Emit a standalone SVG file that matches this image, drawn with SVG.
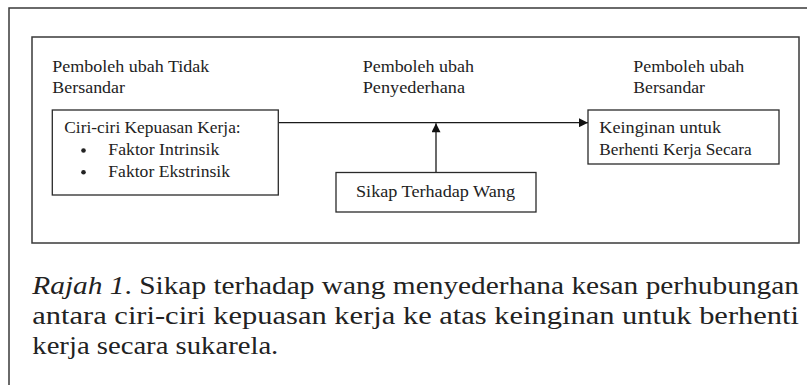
<svg xmlns="http://www.w3.org/2000/svg" width="807" height="385" viewBox="0 0 807 385">
<defs>
<marker id="arr" viewBox="0 0 10 10" refX="10" refY="5" markerWidth="10" markerHeight="9" markerUnits="userSpaceOnUse" orient="auto"><path d="M0,0 L10,5 L0,10 z" fill="#111"/></marker>
</defs>
<style>
.frame{fill:none;stroke:#3a3a3a;stroke-width:1.5}
.box{fill:#fff;stroke:#2a2a2a;stroke-width:1.3}
.lbl{font-family:"Liberation Serif","Times New Roman",serif;font-size:16.5px;fill:#222}
.cap{font-family:"Liberation Serif","Times New Roman",serif;font-size:25px;fill:#222}
.conn{stroke:#1a1a1a;stroke-width:1.3;fill:none}
.dot{fill:#222}
</style>
<rect width="807" height="385" fill="#fff"/>
<path class="frame" d="M9,385 V8 H807"/>
<rect class="frame" x="32" y="37" width="767" height="206"/>

<g id="label-iv">
<text class="lbl" x="52.3" y="71.5" textLength="157" lengthAdjust="spacingAndGlyphs">Pemboleh ubah Tidak</text>
<text class="lbl" x="52.3" y="93" textLength="72.7" lengthAdjust="spacingAndGlyphs">Bersandar</text>
</g>
<g id="label-mod">
<text class="lbl" x="362.7" y="71.5" textLength="111.3" lengthAdjust="spacingAndGlyphs">Pemboleh ubah</text>
<text class="lbl" x="362.7" y="93" textLength="102.3" lengthAdjust="spacingAndGlyphs">Penyederhana</text>
</g>
<g id="label-dv">
<text class="lbl" x="633.3" y="71.5" textLength="111" lengthAdjust="spacingAndGlyphs">Pemboleh ubah</text>
<text class="lbl" x="633.3" y="93" textLength="71.7" lengthAdjust="spacingAndGlyphs">Bersandar</text>
</g>

<g id="connectors">
<path class="conn" d="M278.3,122.7 H588" marker-end="url(#arr)"/>
<path class="conn" d="M436,172.5 V123.3" marker-end="url(#arr)"/>
</g>

<g id="node-kepuasan">
<rect class="box" x="52.3" y="110" width="226" height="85"/>
<text class="lbl" x="64.3" y="133" textLength="176.4" lengthAdjust="spacingAndGlyphs">Ciri-ciri Kepuasan Kerja:</text>
<circle class="dot" cx="83.5" cy="150.5" r="2.3"/>
<text class="lbl" x="108.3" y="155" textLength="111" lengthAdjust="spacingAndGlyphs">Faktor Intrinsik</text>
<circle class="dot" cx="83.5" cy="172.3" r="2.3"/>
<text class="lbl" x="108.3" y="176.8" textLength="121.7" lengthAdjust="spacingAndGlyphs">Faktor Ekstrinsik</text>
</g>

<g id="node-keinginan">
<rect class="box" x="588" y="110" width="191" height="54"/>
<text class="lbl" x="599.3" y="133" textLength="121.7" lengthAdjust="spacingAndGlyphs">Keinginan untuk</text>
<text class="lbl" x="599.3" y="155" textLength="152.4" lengthAdjust="spacingAndGlyphs">Berhenti Kerja Secara</text>
</g>

<g id="node-sikap">
<rect class="box" x="336" y="172.5" width="200" height="39.5"/>
<text class="lbl" x="356" y="197" textLength="159" lengthAdjust="spacingAndGlyphs">Sikap Terhadap Wang</text>
</g>

<g id="caption">
<text class="cap" x="32.3" y="294" textLength="766.7" lengthAdjust="spacingAndGlyphs"><tspan font-style="italic">Rajah 1</tspan>. Sikap terhadap wang menyederhana kesan perhubungan</text>
<text class="cap" x="32.3" y="324" textLength="766.7" lengthAdjust="spacingAndGlyphs">antara ciri-ciri kepuasan kerja ke atas keinginan untuk berhenti</text>
<text class="cap" x="32.3" y="354" textLength="246" lengthAdjust="spacingAndGlyphs">kerja secara sukarela.</text>
</g>
</svg>
